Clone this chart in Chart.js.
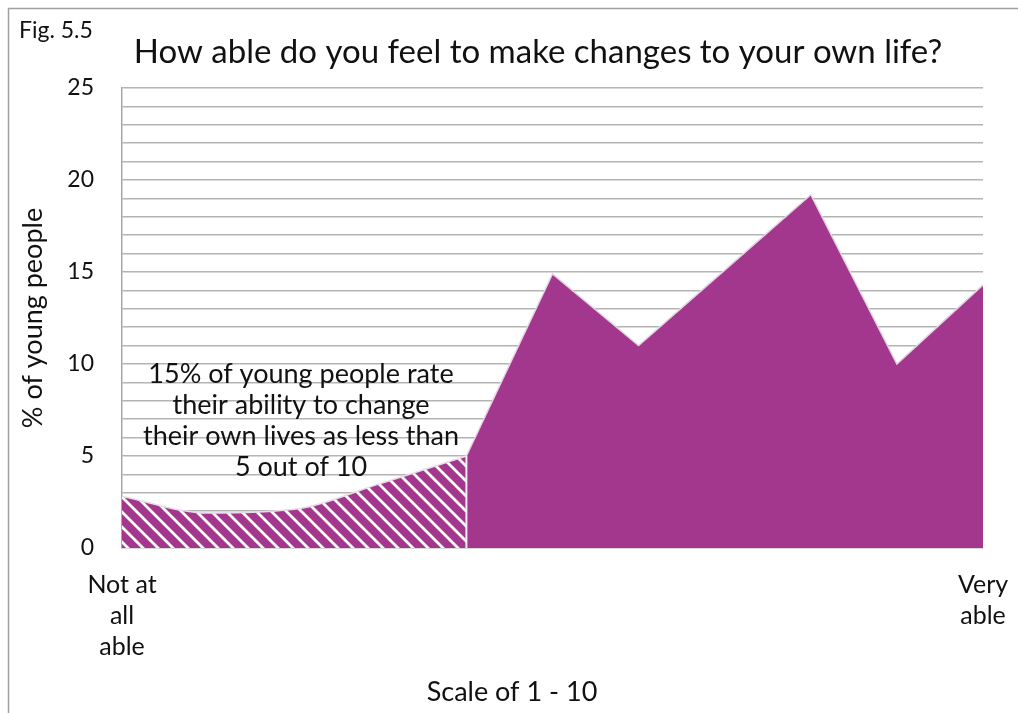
<!DOCTYPE html>
<html>
<head>
<meta charset="utf-8">
<script src="https://cdn.jsdelivr.net/npm/chart.js@4/dist/chart.umd.min.js"></script>
<style>
  body { margin: 0; background: #fff; }
  #wrap { position: relative; width: 1018px; height: 713px; }
</style>
</head>
<body>
<div id="wrap"><canvas id="ableChart"></canvas></div>
<script>
// values (scale 1 - 10, % of young people)
const scalePoints = [1, 2, 3, 4, 5, 6, 7, 8, 9, 10, 11];
const tickLabels = [['Not at', 'all', 'able'], '', '', '', '', '', '', '', '', '', ['Very', 'able']];
const lowValues = [2.8, 1.9, 2.1, 3.5, 5.0, null, null, null, null, null, null];
const highValues = [null, null, null, null, 5.0, 14.9, 11.0, 15.1, 19.2, 10.0, 14.3];
const yLabelSteps = [0, 5, 10, 15, 20, 25];

const annotationLines = [
  '15% of young people rate',
  'their ability to change',
  'their own lives as less than',
  '5 out of 10'
];

const PURPLE = '#a3368d';
const FONT = 'Lato, "Noto Sans", sans-serif';

// diagonal white stripes on purple for the "less than 5" part
const makeHatch = () => {
  const c = document.createElement('canvas');
  c.width = 15; c.height = 15;
  const g = c.getContext('2d');
  g.fillStyle = PURPLE;
  g.fillRect(0, 0, 15, 15);
  g.strokeStyle = '#ffffff';
  g.lineWidth = 2.8;
  g.beginPath();
  for (const k of [-15, 0, 15]) {
    g.moveTo(k - 3, -3);
    g.lineTo(k + 18, 18);
  }
  g.stroke();
  return g.createPattern(c, 'repeat');
};

const extras = {
  id: 'extras',
  beforeDraw(chart) {
    const ctx = chart.ctx;
    ctx.save();
    ctx.strokeStyle = '#a0a0a0';
    ctx.lineWidth = 1.5;
    ctx.beginPath();
    ctx.moveTo(8.5, 713);
    ctx.lineTo(8.5, 8.5);
    ctx.lineTo(1018, 8.5);
    ctx.stroke();
    ctx.restore();
  },
  afterDatasetsDraw(chart) {
    const ctx = chart.ctx;
    const x = chart.scales.x;
    const y = chart.scales.y;
    ctx.save();
    // white divider between hatched and solid parts
    const xd = x.getPixelForValue(4);
    ctx.strokeStyle = '#f4eef4';
    ctx.lineWidth = 2;
    ctx.beginPath();
    ctx.moveTo(xd, y.getPixelForValue(0));
    ctx.lineTo(xd, y.getPixelForValue(lowValues[4]));
    ctx.stroke();
    ctx.restore();
  },
  afterDraw(chart) {
    const ctx = chart.ctx;
    ctx.save();
    ctx.fillStyle = '#111';
    ctx.textBaseline = 'middle';
    ctx.textAlign = 'left';
    ctx.font = '23px ' + FONT;
    ctx.fillText('Fig. 5.5', 19, 31);
    ctx.textAlign = 'center';
    ctx.font = '33px ' + FONT;
    ctx.fillText('How able do you feel to make changes to your own life?', 538, 52);
    ctx.font = '27px ' + FONT;
    ctx.fillText('Scale of 1 - 10', 512, 692);
    ctx.font = '27px ' + FONT;
    annotationLines.forEach((t, i) => {
      ctx.fillText(t, 301, 374 + i * 31);
    });
    ctx.restore();
  }
};

const ctx = document.getElementById('ableChart').getContext('2d');
const ableChart = new Chart(ctx, {
  type: 'line',
  data: {
    labels: tickLabels,
    datasets: [
      {
        label: 'Less than 5',
        data: lowValues,
        fill: 'origin',
        backgroundColor: makeHatch(),
        borderColor: '#e9dce9',
        borderWidth: 1.5,
        cubicInterpolationMode: 'monotone',
        pointRadius: 0
      },
      {
        label: '5 and above',
        data: highValues,
        fill: 'origin',
        backgroundColor: PURPLE,
        borderColor: '#e2d4e2',
        borderWidth: 1.5,
        tension: 0,
        pointRadius: 0
      }
    ]
  },
  options: {
    responsive: true,
    maintainAspectRatio: false,
    animation: false,
    layout: { padding: { left: 10, right: 35, top: 88, bottom: 0 } },
    plugins: {
      legend: { display: false },
      tooltip: { enabled: false }
    },
    scales: {
      x: {
        offset: false,
        grid: { display: false, drawTicks: false },
        border: { display: false },
        ticks: {
          autoSkip: false,
          maxRotation: 0,
          padding: 21,
          color: '#111',
          font: { family: FONT, size: 25, lineHeight: 1.25 }
        },
        afterFit: (s) => {
          s.height = 165;
          s.paddingLeft = 0;
          s.paddingRight = 0;
        }
      },
      y: {
        min: 0,
        max: 25,
        grid: { color: '#b4b4b4', lineWidth: 1.5, drawTicks: false },
        border: { display: true, color: '#a8a8a8', width: 1.5 },
        ticks: {
          stepSize: 1,
          autoSkip: false,
          padding: 28,
          color: '#111',
          font: { family: FONT, size: 23 },
          callback: (v) => (yLabelSteps.includes(v) ? v : '')
        },
        title: {
          display: true,
          text: '% of young people',
          color: '#111',
          font: { family: FONT, size: 27 },
          padding: { top: 7, bottom: 0 }
        },
        afterFit: (s) => { s.width = 112; }
      }
    }
  },
  plugins: [extras]
});
</script>
</body>
</html>
